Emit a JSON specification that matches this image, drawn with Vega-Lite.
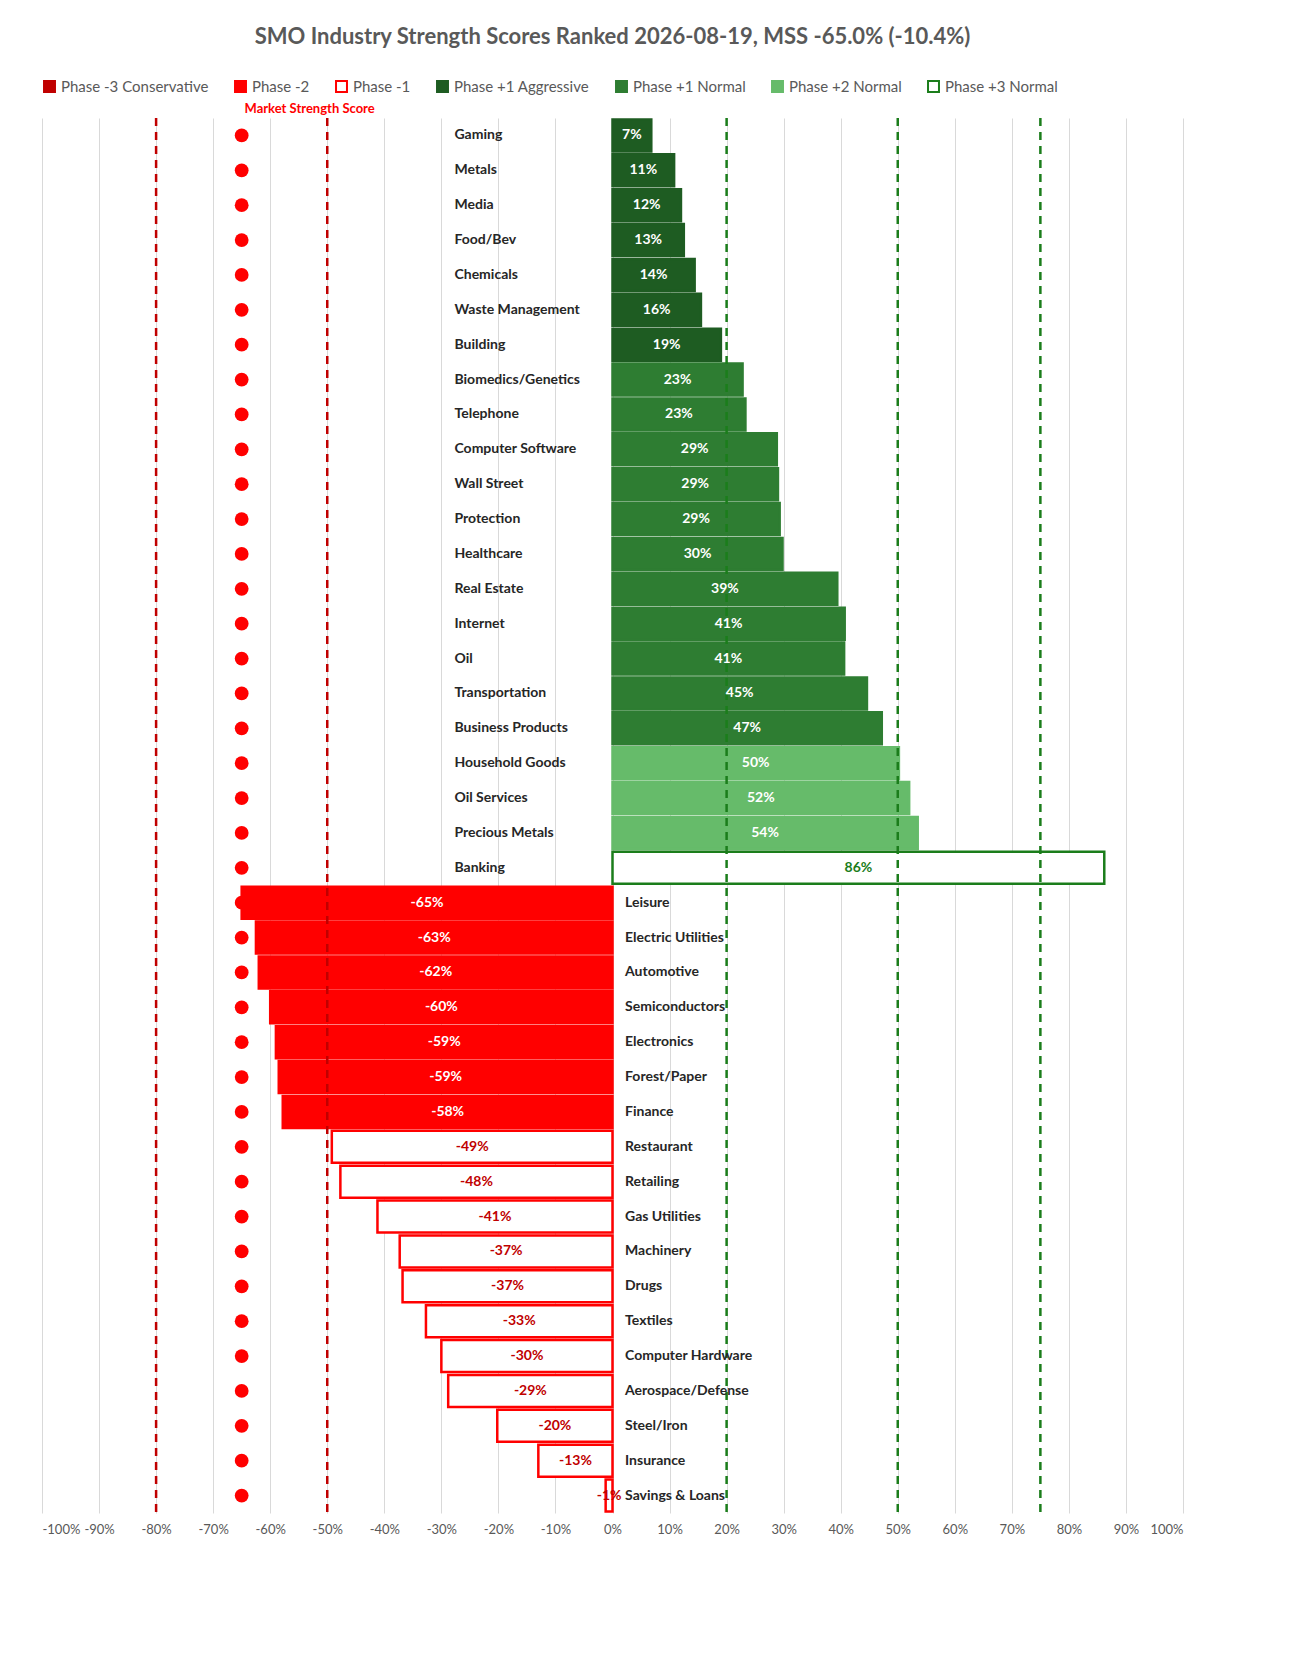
{
"$schema":"https://vega.github.io/schema/vega-lite/v6.json",
"width":1141,"height":1395,
"autosize":"none",
"padding":{"left":42,"top":118,"right":119,"bottom":147},
"background":"white",
"config":{"font":"Lato","view":{"stroke":null}},
"title":{"text":"SMO Industry Strength Scores Ranked 2026-08-19, MSS -65.0% (-10.4%)","fontSize":22,"fontWeight":"bold","color":"#595959","font":"Lato","offset":30},
"data":{"values":[
{"name":"Gaming","v":0.068,"phase":"Phase +1 Aggressive"},
{"name":"Metals","v":0.108,"phase":"Phase +1 Aggressive"},
{"name":"Media","v":0.12,"phase":"Phase +1 Aggressive"},
{"name":"Food/Bev","v":0.125,"phase":"Phase +1 Aggressive"},
{"name":"Chemicals","v":0.144,"phase":"Phase +1 Aggressive"},
{"name":"Waste Management","v":0.155,"phase":"Phase +1 Aggressive"},
{"name":"Building","v":0.19,"phase":"Phase +1 Aggressive"},
{"name":"Biomedics/Genetics","v":0.228,"phase":"Phase +1 Normal"},
{"name":"Telephone","v":0.233,"phase":"Phase +1 Normal"},
{"name":"Computer Software","v":0.288,"phase":"Phase +1 Normal"},
{"name":"Wall Street","v":0.29,"phase":"Phase +1 Normal"},
{"name":"Protection","v":0.293,"phase":"Phase +1 Normal"},
{"name":"Healthcare","v":0.298,"phase":"Phase +1 Normal"},
{"name":"Real Estate","v":0.394,"phase":"Phase +1 Normal"},
{"name":"Internet","v":0.407,"phase":"Phase +1 Normal"},
{"name":"Oil","v":0.406,"phase":"Phase +1 Normal"},
{"name":"Transportation","v":0.446,"phase":"Phase +1 Normal"},
{"name":"Business Products","v":0.472,"phase":"Phase +1 Normal"},
{"name":"Household Goods","v":0.502,"phase":"Phase +2 Normal"},
{"name":"Oil Services","v":0.52,"phase":"Phase +2 Normal"},
{"name":"Precious Metals","v":0.535,"phase":"Phase +2 Normal"},
{"name":"Banking","v":0.862,"phase":"Phase +3 Normal"},
{"name":"Leisure","v":-0.65,"phase":"Phase -2"},
{"name":"Electric Utilities","v":-0.625,"phase":"Phase -2"},
{"name":"Automotive","v":-0.62,"phase":"Phase -2"},
{"name":"Semiconductors","v":-0.6,"phase":"Phase -2"},
{"name":"Electronics","v":-0.59,"phase":"Phase -2"},
{"name":"Forest/Paper","v":-0.585,"phase":"Phase -2"},
{"name":"Finance","v":-0.578,"phase":"Phase -2"},
{"name":"Restaurant","v":-0.492,"phase":"Phase -1"},
{"name":"Retailing","v":-0.477,"phase":"Phase -1"},
{"name":"Gas Utilities","v":-0.412,"phase":"Phase -1"},
{"name":"Machinery","v":-0.373,"phase":"Phase -1"},
{"name":"Drugs","v":-0.368,"phase":"Phase -1"},
{"name":"Textiles","v":-0.327,"phase":"Phase -1"},
{"name":"Computer Hardware","v":-0.30,"phase":"Phase -1"},
{"name":"Aerospace/Defense","v":-0.288,"phase":"Phase -1"},
{"name":"Steel/Iron","v":-0.202,"phase":"Phase -1"},
{"name":"Insurance","v":-0.13,"phase":"Phase -1"},
{"name":"Savings & Loans","v":-0.012,"phase":"Phase -1"}
]},
"transform":[{"calculate":"datum.v/2","as":"mid"},{"calculate":"replace(format(datum.v,'.0%'),'\u2212','-')","as":"lbl"}],
"encoding":{"y":{"field":"name","type":"nominal","sort":null,"axis":null,"scale":{"paddingInner":0.08,"paddingOuter":0.04}}},
"layer":[
{"mark":{"type":"bar","strokeWidth":2.5,"opacity":1},
 "encoding":{
  "x":{"field":"v","type":"quantitative","scale":{"domain":[-1,1]},"axis":{"labelExpr":"replace(format(datum.value,'.0%'),'\u2212','-')","values":[-1,-0.9,-0.8,-0.7,-0.6,-0.5,-0.4,-0.3,-0.2,-0.1,0,0.1,0.2,0.3,0.4,0.5,0.6,0.7,0.8,0.9,1],"labelOverlap":false,"title":null,"domain":false,"ticks":false,"gridColor":"#d9d9d9","labelFontSize":13,"labelColor":"#595959","labelPadding":10}},
  "x2":{"datum":0},
  "fill":{"field":"phase","type":"nominal","scale":{"domain":["Phase -3 Conservative","Phase -2","Phase -1","Phase +1 Aggressive","Phase +1 Normal","Phase +2 Normal","Phase +3 Normal"],"range":["#c00000","#ff0000","#ffffff","#1e5c22","#2e7d32","#66bb6a","#ffffff"]},
   "legend":{"orient":"top","direction":"horizontal","title":null,"symbolType":"square","symbolSize":120,"symbolStrokeWidth":2,"labelFontSize":15,"labelColor":"#595959","columnPadding":22,"offset":22}},
  "stroke":{"field":"phase","type":"nominal","scale":{"domain":["Phase -3 Conservative","Phase -2","Phase -1","Phase +1 Aggressive","Phase +1 Normal","Phase +2 Normal","Phase +3 Normal"],"range":["#c00000","#ff0000","#ff0000","#1e5c22","#2e7d32","#66bb6a","#1b7d1b"]},"legend":null}
 }},
{"mark":{"type":"rule","strokeDash":[8,6],"strokeWidth":2.5,"color":"#c00000"},"data":{"values":[{"r":-0.8},{"r":-0.5}]},"encoding":{"x":{"field":"r","type":"quantitative"},"y":null}},
{"mark":{"type":"rule","strokeDash":[8,6],"strokeWidth":2.5,"color":"#1b7d1b"},"data":{"values":[{"r":0.2},{"r":0.5},{"r":0.75}]},"encoding":{"x":{"field":"r","type":"quantitative"},"y":null}},
{"mark":{"type":"circle","size":190,"color":"#ff0000","opacity":1},"encoding":{"x":{"datum":-0.65}}},
{"mark":{"type":"text","text":"Market Strength Score","color":"#ff0000","fontWeight":"bold","fontSize":13,"align":"left","dy":-26},"transform":[{"filter":"datum.name==='Gaming'"}],"encoding":{"x":{"datum":-0.645}}},
{"transform":[{"filter":"datum.v>0"}],"mark":{"type":"text","align":"left","fontWeight":"bold","fontSize":14,"color":"#262626"},"encoding":{"x":{"datum":-0.277},"text":{"field":"name"}}},
{"transform":[{"filter":"datum.v<0"}],"mark":{"type":"text","align":"left","fontWeight":"bold","fontSize":14,"color":"#262626"},"encoding":{"x":{"datum":0.022},"text":{"field":"name"}}},
{"transform":[{"filter":"datum.phase!=='Phase -1' && datum.phase!=='Phase +3 Normal'"}],"mark":{"type":"text","fontWeight":"bold","fontSize":14,"color":"white"},"encoding":{"x":{"field":"mid","type":"quantitative"},"text":{"field":"lbl"}}},
{"transform":[{"filter":"datum.phase==='Phase -1'"}],"mark":{"type":"text","fontWeight":"bold","fontSize":14,"color":"#c00000"},"encoding":{"x":{"field":"mid","type":"quantitative"},"text":{"field":"lbl"}}},
{"transform":[{"filter":"datum.phase==='Phase +3 Normal'"}],"mark":{"type":"text","fontWeight":"bold","fontSize":14,"color":"#1b7d1b"},"encoding":{"x":{"field":"mid","type":"quantitative"},"text":{"field":"lbl"}}}
]
}
